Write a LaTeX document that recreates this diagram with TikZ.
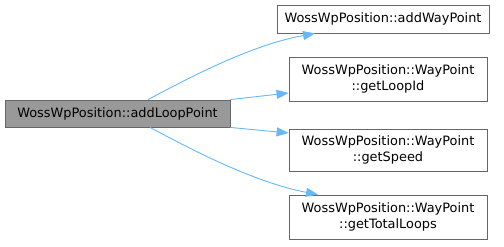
\documentclass[tikz,border=0pt]{standalone}
\usepackage{fontspec}
\setmainfont{DejaVu Sans}
\usepackage{tikz}
\usetikzlibrary{positioning, arrows.meta}
\definecolor{DoxEdge}{HTML}{63B8FF}
\definecolor{DoxBorder}{HTML}{666666}
\definecolor{DoxRoot}{HTML}{999999}
\tikzset{
  func/.style={rectangle, draw=DoxBorder, fill=white, line width=0.9bp,
    inner sep=0pt, align=center, font=\fontsize{12.9bp}{16bp}\selectfont},
  rootfunc/.style={func, fill=DoxRoot},
  call/.style={-{Triangle[length=12bp, width=9bp]}, DoxEdge, line width=0.9bp},
}

\begin{document}
\begin{tikzpicture}[x=1bp, y=-1bp]
    \useasboundingbox (0,0) rectangle (504,246);
    \node[rootfunc, minimum width=225bp, minimum height=27bp] (root) at (117.5,113.5) {WossWpPosition::addLoopPoint};
    \node[func, minimum width=212bp, minimum height=28bp] (addwp) at (383,19) {WossWpPosition::addWayPoint};
    \node[func, minimum width=198bp, minimum height=44bp] (loopid) at (388,79) {WossWpPosition::WayPoint\\::getLoopId};
    \node[func, minimum width=198bp, minimum height=42bp] (speed) at (388,150) {WossWpPosition::WayPoint\\::getSpeed};
    \node[func, minimum width=198bp, minimum height=44bp] (loops) at (388,217) {WossWpPosition::WayPoint\\::getTotalLoops};
    \draw[call] (root.north -| 148,0) .. controls (185,80) and (250,45) .. (addwp.south -| 315,0);
    \draw[call] (root.north east) -- (loopid.west |- 0,93);
    \draw[call] (root.south east) -- (speed.west |- 0,133);
    \draw[call] (root.south -| 150,0) .. controls (187,147) and (252,182) .. (loops.north -| 318,0);
  \end{tikzpicture}
\end{document}
